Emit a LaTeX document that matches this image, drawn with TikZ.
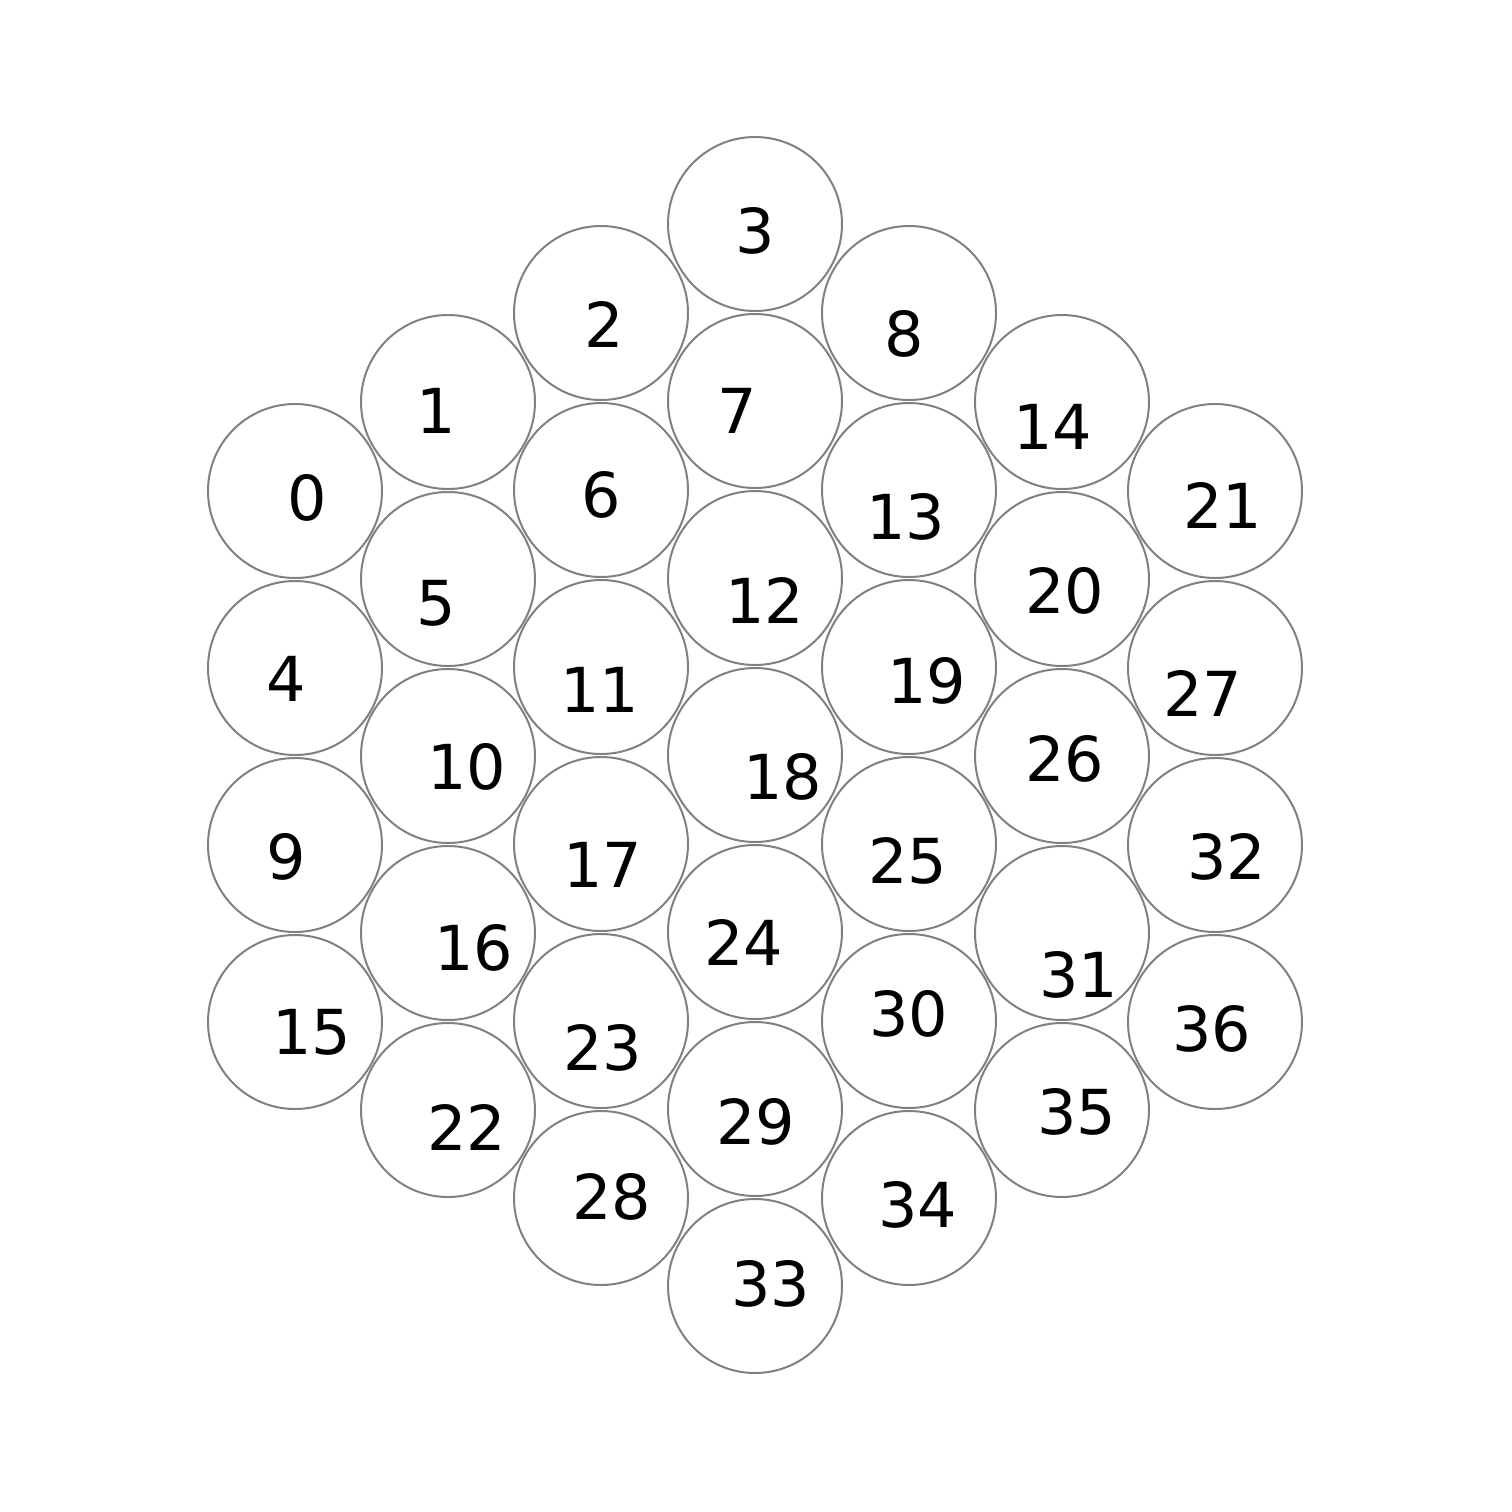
\documentclass[tikz,border=0pt]{standalone}
\usepackage{fontspec}
\setmainfont{DejaVu Sans}
\begin{document}
\begin{tikzpicture}[x=0.5pt,y=-0.5pt,
  cell/.style={circle,draw={rgb,255:red,128;green,128;blue,128},line width=1pt,minimum size=87pt,inner sep=0pt,fill=white},
  lbl/.style={inner sep=0pt,anchor=center,font=\fontsize{31pt}{31pt}\selectfont}]
\useasboundingbox (0,0) rectangle (1512,1512);
\foreach \n/\cx/\cy/\lx/\ly in {
0/295/491/307/498, 4/295/668/286/679, 9/295/845/286/857, 15/295/1022/312/1032,
1/448/402/436/411, 5/448/579/436/603, 10/448/756/467/767, 16/448/933/474/948, 22/448/1110/467/1127,
2/601/313/604/324, 6/601/490/601/495, 11/601/667/600/690, 17/601/844/603/865, 23/601/1021/603/1048, 28/601/1198/612/1197,
3/755/224/755/231, 7/755/401/737/411, 12/755/578/765/600, 18/755/755/783/777, 24/755/932/744/942, 29/755/1109/756/1122, 33/755/1286/771/1284,
8/909/313/904/334, 13/909/490/906/517, 19/909/667/927/681, 25/909/844/908/861, 30/909/1021/909/1014, 34/909/1198/918/1205,
14/1062/402/1053/427, 20/1062/579/1065/591, 26/1062/756/1065/759, 31/1062/933/1079/975, 35/1062/1110/1077/1112,
21/1215/491/1223/505, 27/1215/668/1203/693, 32/1215/845/1227/857, 36/1215/1022/1212/1029}
{
  \node[cell] (c\n) at (\cx,\cy) {};
  \node[lbl] (l\n) at (\lx,\ly) {\n};
}
\end{tikzpicture}
\end{document}
